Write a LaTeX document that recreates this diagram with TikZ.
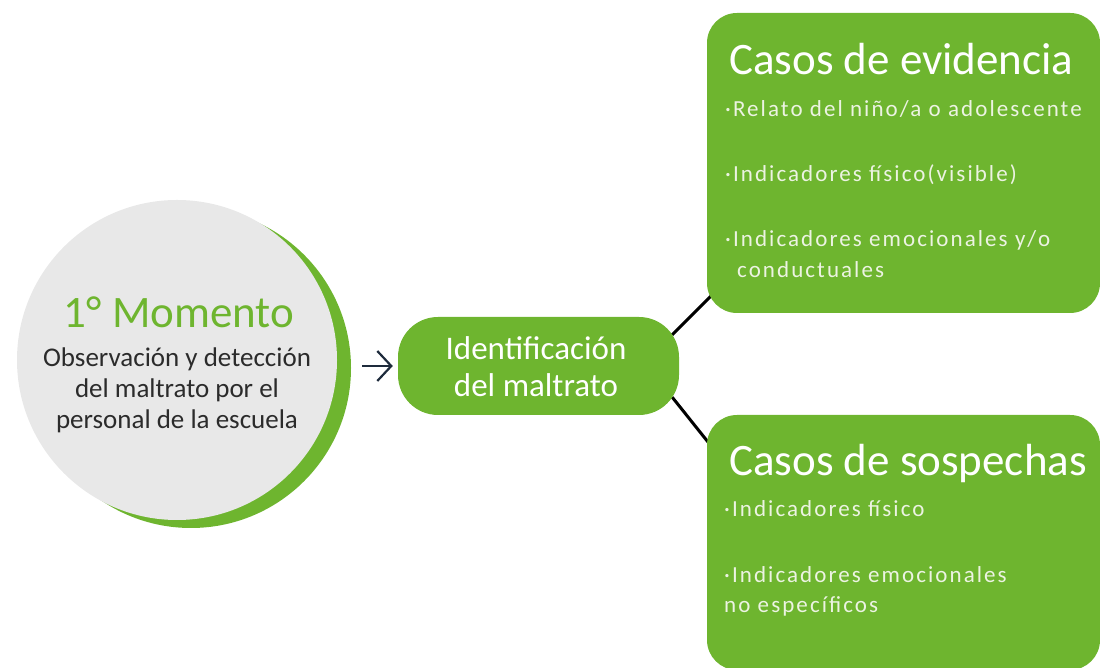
\documentclass[tikz,border=0pt]{standalone}
\usepackage{fontspec}
\setmainfont{Carlito}
\newfontfamily\itemfont[LetterSpace=9]{Carlito}
\usetikzlibrary{arrows.meta,backgrounds}
\definecolor{verde}{RGB}{110,181,47}
\definecolor{gris}{RGB}{232,232,232}
\definecolor{tinta}{RGB}{43,43,43}
\definecolor{azul}{RGB}{30,43,60}
\definecolor{crema}{RGB}{236,243,226}

\begin{document}
\begin{tikzpicture}[x=1pt,y=1pt]
        \tikzstyle{shade}=[circle,fill=verde,minimum size=320pt,inner sep=0pt]
        \tikzstyle{moment}=[circle,fill=gris,minimum size=320pt,inner sep=0pt]
        \tikzstyle{pill}=[rectangle,rounded corners=40pt,fill=verde,minimum width=281pt,minimum height=98pt,inner sep=0pt]
        \tikzstyle{caso}=[rectangle,rounded corners=30pt,fill=verde,minimum width=393pt,inner sep=0pt]
        \tikzstyle{title}=[anchor=base west,text=white,inner sep=0pt,font=\fontsize{45}{45}\selectfont]
        \tikzstyle{item}=[anchor=base west,text=crema,inner sep=0pt,font=\itemfont\fontsize{23}{23}\selectfont]
        \tikzstyle{edge}=[draw,line width=3pt,black]
        \tikzstyle{flecha}=[draw=azul,line width=2.2pt,-{Straight Barb[length=14pt,width=30pt]}]
        \useasboundingbox (0,0) rectangle (1100,668);
       \begin{scope}
         % first moment
         \node [shade] (sombra) at (191,300) {};
         \node [moment] (momento) at (177,308) {};
         \node [anchor=base,text=verde,font=\fontsize{45}{45}\selectfont] (m1) at (179,340) {1° Momento};
         \node [anchor=base,text=tinta,align=center,font=\fontsize{27}{31}\selectfont] (m2) at (177,239)
           {Observación y detección\\del maltrato por el\\personal de la escuela};
         % identification
         \node [pill] (ident) at (538.5,302) {};
         \node [anchor=base,text=white,align=center,font=\fontsize{33}{37}\selectfont] (i1) at (536,271)
           {Identificación\\del maltrato};
         % cases
         \node [caso,minimum height=300pt] (evid) at (903.5,505) {};
         \node [title] (e0) at (729,593) {Casos de evidencia};
         \node [item] (e1) at (725,551) {·Relato del niño/a o adolescente};
         \node [item] (e2) at (725,486) {·Indicadores físico(visible)};
         \node [item] (e3) at (725,421) {·Indicadores emocionales y/o};
         \node [item] (e4) at (737,390) {conductuales};
         \node [caso,minimum height=255pt] (sosp) at (903.5,125.5) {};
         \node [title] (s0) at (729,192) {Casos de sospechas};
         \node [item] (s1) at (724,151) {·Indicadores físico};
         \node [item] (s2) at (724,85) {·Indicadores emocionales};
         \node [item] (s3) at (724,55) {no específicos};
        \end{scope}
       \begin{scope}[on background layer]
         \path[edge] ([shift={(-7,-18)}]ident.north east) -- ([shift={(8,21)}]evid.south west);
         \path[edge] ([shift={(-7,18)}]ident.south east) -- ([shift={(9,-37)}]sosp.north west);
        \end{scope}
         \path[flecha,shorten <=25pt,shorten >=5pt] (momento.east |- ident.west) -- (ident.west);
      \end{tikzpicture}
\end{document}
